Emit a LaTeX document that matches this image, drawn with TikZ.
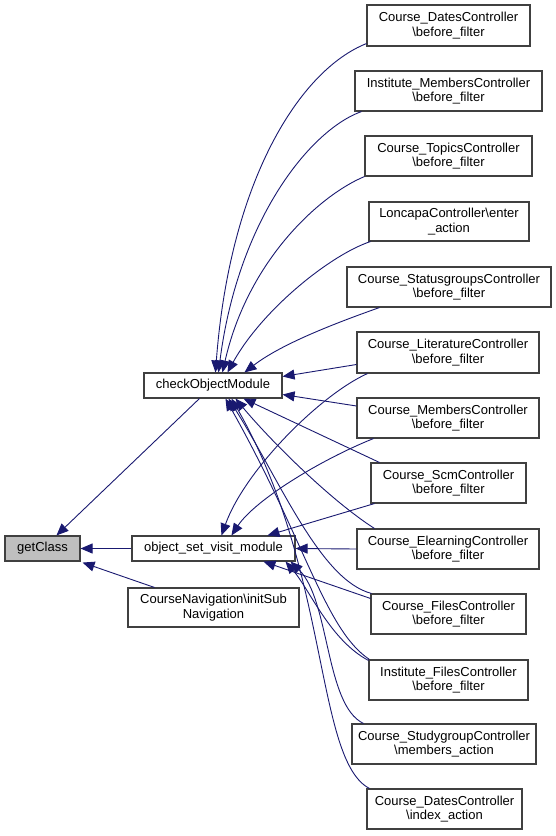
\documentclass[tikz,border=0pt]{standalone}
\usepackage{fontspec}
\setmainfont{Liberation Sans}
\usetikzlibrary{calc,arrows.meta}
\definecolor{edgeblue}{HTML}{191970}
\definecolor{boxline}{HTML}{404040}
\definecolor{boxfill}{HTML}{BFBFBF}
\tikzset{
  fn/.style={draw=boxline,line width=1.1pt,fill=white,inner sep=0pt,align=center,
    font=\fontsize{13}{14.5}\selectfont,minimum height=40pt},
  fnone/.style={fn,minimum height=25pt},
  edge/.style={draw=edgeblue,line width=0.9pt,-{Triangle[length=12pt,width=10pt]}},
}
\begin{document}
\begin{tikzpicture}[x=1pt,y=-1pt]
\useasboundingbox (0,0) rectangle (556,836);
% left column
\node[fnone,fill=boxfill,minimum width=75pt] (getClass) at (42.5,548.5) {getClass};
\node[fnone,minimum width=138pt] (check) at (213,385.5) {checkObjectModule};
\node[fnone,minimum width=163pt] (objset) at (213.5,548.5) {object\_set\_visit\_module};
\node[fn,minimum width=171pt,minimum height=39pt] (nav) at (213.5,607.5) {CourseNavigation\textbackslash initSub\\Navigation};
% right column
\node[fn,minimum width=163pt,minimum height=41pt] (datesB) at (448.5,25.5) {Course\_DatesController\\\textbackslash before\_filter};
\node[fn,minimum width=187pt] (instM) at (448.5,91) {Institute\_MembersController\\\textbackslash before\_filter};
\node[fn,minimum width=167pt] (topics) at (448.5,156) {Course\_TopicsController\\\textbackslash before\_filter};
\node[fn,minimum width=160pt,minimum height=39pt] (loncapa) at (449,221.5) {LoncapaController\textbackslash enter\\\_action};
\node[fn,minimum width=204pt] (status) at (449,287) {Course\_StatusgroupsController\\\textbackslash before\_filter};
\node[fn,minimum width=182pt,minimum height=41pt] (lit) at (448,352.5) {Course\_LiteratureController\\\textbackslash before\_filter};
\node[fn,minimum width=182pt] (mem) at (448,418) {Course\_MembersController\\\textbackslash before\_filter};
\node[fn,minimum width=155pt] (scm) at (448.5,483) {Course\_ScmController\\\textbackslash before\_filter};
\node[fn,minimum width=182pt] (elearn) at (448,549) {Course\_ElearningController\\\textbackslash before\_filter};
\node[fn,minimum width=155pt] (files) at (448.5,614) {Course\_FilesController\\\textbackslash before\_filter};
\node[fn,minimum width=159pt] (instF) at (448.5,680) {Institute\_FilesController\\\textbackslash before\_filter};
\node[fn,minimum width=184pt] (study) at (444,744) {Course\_StudygroupController\\\textbackslash members\_action};
\node[fn,minimum width=155pt] (datesI) at (444.5,809) {Course\_DatesController\\\textbackslash index\_action};
% edges into checkObjectModule
\draw[edge] ($(datesB.south west)+(0,-3)$) .. controls (300,70) and (230,180) .. ($(check.north west)+(72,0)$);
\draw[edge] ($(instM.south west)+(7,0)$) .. controls (310,130) and (238,220) .. ($(check.north west)+(75,0)$);
\draw[edge] (topics.south west) .. controls (320,195) and (248,260) .. ($(check.north west)+(79,0)$);
\draw[edge] ($(loncapa.south west)+(2,0)$) .. controls (330,255) and (262,310) .. ($(check.north west)+(84,0)$);
\draw[edge] ($(status.south west)+(33,0)$) .. controls (330,325) and (280,345) .. ($(check.north west)+(101,0)$);
\draw[edge] ($(lit.west)+(0,12)$) -- ($(check.east)+(0,-9)$);
\draw[edge] ($(mem.west)+(0,-12)$) -- ($(check.east)+(0,9)$);
\draw[edge] ($(scm.north west)+(9,0)$) -- ($(check.south west)+(100,0)$);
\draw[edge] ($(elearn.north west)+(18,0)$) .. controls (330,500) and (270,440) .. ($(check.south west)+(92,0)$);
\draw[edge] ($(files.north west)+(1,0)$) .. controls (320,580) and (280,480) .. ($(check.south west)+(85,0)$);
\draw[edge] ($(instF.north west)+(1,0)$) .. controls (325,630) and (305,540) .. ($(check.south west)+(82,0)$);
\draw[edge] ($(datesI.north west)+(3,0)$) .. controls (315,760) and (330,570) .. ($(check.south west)+(88,0)$);
% edges into object_set_visit_module
\draw[edge] ($(lit.south west)+(11,0)$) .. controls (320,395) and (245,470) .. ($(objset.north west)+(90,0)$);
\draw[edge] ($(mem.south west)+(17,0)$) .. controls (320,460) and (255,500) .. ($(objset.north west)+(100,0)$);
\draw[edge] ($(scm.south west)+(4,0)$) -- ($(objset.north west)+(136,0)$);
\draw[edge] (elearn.west) -- (objset.east);
\draw[edge] ($(files.north west)+(0,5)$) -- ($(objset.south west)+(132,0)$);
\draw[edge] ($(instF.north west)+(0,1)$) .. controls (330,640) and (310,590) .. ($(objset.south east)+(-10,0)$);
\draw[edge] ($(study.north west)+(12,0)$) .. controls (325,705) and (330,600) .. ($(objset.south east)+(-5,0)$);
% edges into getClass
\draw[edge] ($(check.south west)+(56,0)$) -- ($(getClass.north west)+(52,0)$);
\draw[edge] (objset.west) -- (getClass.east);
\draw[edge] ($(nav.north west)+(27,0)$) -- ($(getClass.south east)+(2,1)$);
\end{tikzpicture}
\end{document}
